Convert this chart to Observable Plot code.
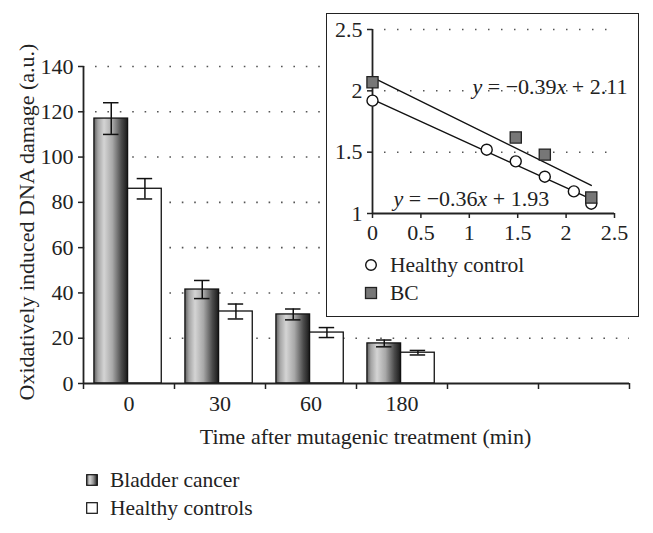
<!DOCTYPE html>
<html><head><meta charset="utf-8">
<script src="https://cdn.jsdelivr.net/npm/d3@7"></script>
<script src="https://cdn.jsdelivr.net/npm/@observablehq/plot@0.6"></script>
<style>
body{margin:0;background:#fff;}
#wrap{position:relative;width:653px;height:533px;overflow:hidden;font-family:"Liberation Serif",serif;color:#222;}
#wrap svg{display:block;}
.abs{position:absolute;}
.lg{position:absolute;display:flex;align-items:center;height:24px;font-size:21.5px;font-family:"Liberation Serif",serif;color:#222;white-space:nowrap;}
</style></head><body><div id="wrap"></div>
<script>
// ---- main chart data ----
const times = ["0", "30", "60", "180"];
const bladderCancer = [117, 41.5, 30.5, 17.7];
const bladderCancerErr = [7, 4, 2.4, 1.5];
const healthyControls = [86, 31.8, 22.5, 13.6];
const healthyControlsErr = [4.5, 3.3, 2.2, 1];
const yTicks = [0, 20, 40, 60, 80, 100, 120, 140];
const seriesNames = ["Bladder cancer", "Healthy controls"];

// ---- inset data ----
const insetHealthyX = [0, 1.18, 1.48, 1.78, 2.08, 2.26];
const insetHealthyY = [1.92, 1.52, 1.425, 1.30, 1.18, 1.08];
const insetBCX = [0, 1.48, 1.78, 2.26];
const insetBCY = [2.07, 1.62, 1.48, 1.13];
const fitSlope = [-0.39, -0.36];
const fitIntercept = [2.11, 1.93];
const fitLabels = ["y = \u22120.39x + 2.11", "y = \u22120.36x + 1.93"];
const insetXTicks = [0, 0.5, 1, 1.5, 2, 2.5];
const insetYTicks = [1, 1.5, 2, 2.5];
const insetSeries = ["Healthy control", "BC"];

const FONT = "Liberation Serif";
const FS = 22;
const INK = "#222";
const wrap = document.getElementById("wrap");
const NS = "http://www.w3.org/2000/svg";

function addGradient(svg, id) {
  const defs = document.createElementNS(NS, "defs");
  const g = document.createElementNS(NS, "linearGradient");
  g.setAttribute("id", id);
  g.setAttribute("x1", "0"); g.setAttribute("x2", "1");
  g.setAttribute("y1", "0"); g.setAttribute("y2", "0");
  [[0, "#5e5e5e"], [0.12, "#a4a4a4"], [0.3, "#d4d4d4"], [0.55, "#a8a8a8"], [0.82, "#4a4a4a"], [1, "#1a1a1a"]].forEach(([o, c]) => {
    const s = document.createElementNS(NS, "stop");
    s.setAttribute("offset", o); s.setAttribute("stop-color", c);
    g.appendChild(s);
  });
  defs.appendChild(g);
  svg.insertBefore(defs, svg.firstChild);
}

// bars table
const bars = [];
times.forEach((t, i) => {
  bars.push({slot: i, s: 0, v: bladderCancer[i], e: bladderCancerErr[i]});
  bars.push({slot: i, s: 1, v: healthyControls[i], e: healthyControlsErr[i]});
});
const off = [0.12, 0.49], bw = 0.37, cap = 0.085;
const bx1 = d => d.slot + off[d.s];
const bx2 = d => d.slot + off[d.s] + bw;
const bc = d => d.slot + off[d.s] + bw / 2;

const main = Plot.plot({
  width: 653, height: 460,
  marginLeft: 83, marginRight: 24, marginTop: 66, marginBottom: 77,
  style: {fontFamily: FONT, fontSize: FS + "px", color: INK, background: "transparent"},
  x: {domain: [0, 6]},
  y: {domain: [0, 140]},
  marks: [
    Plot.gridY(yTicks.filter(d => d > 0), {stroke: "#555", strokeOpacity: 1, strokeWidth: 1.6, strokeDasharray: "1.6,10.8", strokeDashoffset: -12}),
    Plot.rect(bars, {x1: bx1, x2: bx2, y1: 0, y2: "v", fill: d => d.s === 0 ? "url(#barGrad)" : "white", stroke: "#111", strokeWidth: 1.3}),
    Plot.ruleX(bars, {x: bc, y1: d => d.v - d.e, y2: d => d.v + d.e, stroke: "#111", strokeWidth: 1.5}),
    Plot.ruleY(bars, {y: d => d.v + d.e, x1: d => bc(d) - cap, x2: d => bc(d) + cap, stroke: "#111", strokeWidth: 1.5}),
    Plot.ruleY(bars, {y: d => d.v - d.e, x1: d => bc(d) - cap, x2: d => bc(d) + cap, stroke: "#111", strokeWidth: 1.5}),
    Plot.axisY({ticks: yTicks, tickSize: 5, tickPadding: 5, label: null, stroke: INK, strokeWidth: 1.5}),
    Plot.axisX({ticks: d3.range(7), tickSize: 6, tickFormat: () => "", label: null, stroke: INK, strokeWidth: 1.5}),
    Plot.axisX({ticks: times.map((t, i) => i + 0.5), tickSize: 0, tickPadding: 12, tickFormat: d => times[Math.floor(d)], label: null}),
    Plot.ruleX([0], {stroke: INK, strokeWidth: 1.8}),
    Plot.ruleY([0], {stroke: INK, strokeWidth: 1.8}),
    Plot.text(["Time after mutagenic treatment (min)"], {frameAnchor: "bottom", dx: 9, dy: 53, lineAnchor: "middle", fontSize: FS, fill: INK}),
    Plot.text(["Oxidatively induced DNA damage (a.u.)"], {frameAnchor: "left", dx: -57, dy: -3, rotate: -90, lineAnchor: "middle", textAnchor: "middle", fontSize: FS, fill: INK})
  ]
});
addGradient(main, "barGrad");
main.classList.add("abs");
main.style.left = "0px"; main.style.top = "0px";
wrap.appendChild(main);

// ---- inset ----
const hPts = insetHealthyX.map((x, i) => ({x, y: insetHealthyY[i]}));
const bPts = insetBCX.map((x, i) => ({x, y: insetBCY[i]}));
const xMax = d3.max([...insetHealthyX, ...insetBCX]);
const fits = [];
fitSlope.forEach((m, k) => {
  [0, xMax].forEach(x => fits.push({k, x, y: m * x + fitIntercept[k]}));
});

const inset = Plot.plot({
  width: 311, height: 302,
  marginLeft: 45, marginRight: 24, marginTop: 15, marginBottom: 103,
  style: {fontFamily: FONT, fontSize: FS + "px", color: INK, background: "white"},
  x: {domain: [0, 2.5]},
  y: {domain: [1, 2.5]},
  marks: [
    Plot.gridY(insetYTicks.filter(d => d > 1), {stroke: "#555", strokeOpacity: 1, strokeWidth: 1.5, strokeDasharray: "1.5,11.5", strokeDashoffset: -12}),
    Plot.axisY({ticks: insetYTicks, tickSize: 5, tickPadding: 5, tickFormat: d => String(d), label: null, stroke: INK, strokeWidth: 1.5}),
    Plot.axisX({ticks: insetXTicks, tickSize: 5, tickPadding: 6, tickFormat: d => String(d), label: null, stroke: INK, strokeWidth: 1.5}),
    Plot.ruleX([0], {stroke: INK, strokeWidth: 1.8}),
    Plot.ruleY([1], {stroke: INK, strokeWidth: 1.8}),
    Plot.line(fits, {x: "x", y: "y", z: "k", stroke: "#111", strokeWidth: 1.4}),
    Plot.dot(hPts, {x: "x", y: "y", r: 5.5, fill: "white", stroke: "#111", strokeWidth: 1.4}),
    Plot.dot(bPts, {x: "x", y: "y", symbol: "square", r: 6.3, fill: "#777", stroke: "#222", strokeWidth: 1.3}),
    Plot.text([fitLabels[0]], {frameAnchor: "top-left", dx: 100, dy: 57, textAnchor: "start", lineAnchor: "middle", fontSize: FS, fill: INK, className: "eq"}),
    Plot.text([fitLabels[1]], {frameAnchor: "top-left", dx: 21, dy: 169, textAnchor: "start", lineAnchor: "middle", fontSize: FS, fill: INK, className: "eq"})
  ]
});
// italic variables
inset.querySelectorAll(".eq text").forEach(t => {
  const s = t.textContent;
  t.textContent = "";
  let buf = "";
  const flush = () => { if (buf) { t.appendChild(document.createTextNode(buf)); buf = ""; } };
  for (const ch of s) {
    if (ch === "x" || ch === "y") {
      flush();
      const ts = document.createElementNS(NS, "tspan");
      ts.setAttribute("font-style", "italic");
      ts.textContent = ch;
      t.appendChild(ts);
    } else buf += ch;
  }
  flush();
});
inset.classList.add("abs");
inset.style.left = "327px"; inset.style.top = "14px";
inset.style.outline = "1.6px solid #222";
wrap.appendChild(inset);

// ---- legends (HTML) ----
function legendItem(left, cy, symbol, label) {
  const d = document.createElement("div");
  d.className = "lg";
  d.style.left = left + "px";
  d.style.top = (cy - 12) + "px";
  d.innerHTML = symbol;
  const sp = document.createElement("span");
  sp.textContent = label;
  d.appendChild(sp);
  wrap.appendChild(d);
}
const gradSmall = `<defs><linearGradient id="lgGrad" x1="0" x2="1" y1="0" y2="0"><stop offset="0" stop-color="#6a6a6a"/><stop offset="0.3" stop-color="#d4d4d4"/><stop offset="0.6" stop-color="#999"/><stop offset="1" stop-color="#1e1e1e"/></linearGradient></defs>`;
legendItem(86, 480, `<svg width="12" height="12" style="margin-right:12px">${gradSmall}<rect x="0.7" y="0.7" width="10.6" height="10.6" fill="url(#lgGrad)" stroke="#111" stroke-width="1.2"/></svg>`, seriesNames[0]);
legendItem(86, 508, `<svg width="12" height="12" style="margin-right:12px"><rect x="0.7" y="0.7" width="10.6" height="10.6" fill="white" stroke="#111" stroke-width="1.2"/></svg>`, seriesNames[1]);
legendItem(364, 265, `<svg width="14" height="14" style="margin-right:12px"><circle cx="7" cy="7" r="5.3" fill="white" stroke="#111" stroke-width="1.4"/></svg>`, insetSeries[0]);
legendItem(364, 293, `<svg width="14" height="14" style="margin-right:12px"><rect x="1.5" y="1.5" width="11" height="11" fill="#777" stroke="#222" stroke-width="1.3"/></svg>`, insetSeries[1]);
</script></body></html>
